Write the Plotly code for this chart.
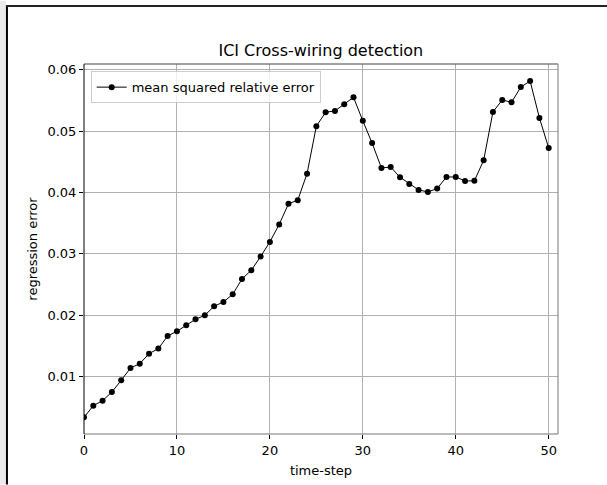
import plotly.graph_objects as go

# ---- data ----
time_step = list(range(0, 51))
mean_sq_rel_error = [
    0.00337, 0.00527, 0.00609, 0.00750, 0.00940, 0.01141, 0.01212, 0.01375, 0.01457, 0.01663,
    0.01739, 0.01837, 0.01935, 0.02000, 0.02147, 0.02217, 0.02342, 0.02592, 0.02734, 0.02957,
    0.03196, 0.03481, 0.03816, 0.03876, 0.04308, 0.05081, 0.05308, 0.05330, 0.05438, 0.05551,
    0.05168, 0.04805, 0.04400, 0.04416, 0.04249, 0.04140, 0.04043, 0.04010, 0.04065, 0.04254,
    0.04254, 0.04189, 0.04190, 0.04524, 0.05314, 0.05508, 0.05470, 0.05719, 0.05816, 0.05216,
    0.04724,
]
x_ticks = [0, 10, 20, 30, 40, 50]
y_ticks = [0.01, 0.02, 0.03, 0.04, 0.05, 0.06]

title_text = "ICI Cross-wiring detection"
x_label = "time-step"
y_label = "regression error"
series_name = "mean squared relative error"

# ---- layout geometry (pixels) ----
W, H = 607, 485
PL, PR, PT, PB = 84, 557.7, 63.5, 434.3
FONT = "DejaVu Sans"


def px_x(px):
    return (px - PL) / (PR - PL)


def px_y(py):
    return (PB - py) / (PB - PT)


fig = go.Figure()
fig.add_trace(go.Scatter(
    x=time_step, y=mean_sq_rel_error, mode="lines+markers", name=series_name,
    line=dict(color="black", width=1),
    marker=dict(color="black", size=6),
))

shapes = [
    # outer decoration of the picture
    dict(type="rect", xref="paper", yref="paper", x0=px_x(0), x1=px_x(6),
         y0=px_y(H), y1=px_y(0), fillcolor="#ebebeb", line=dict(width=0), layer="below"),
    dict(type="line", xref="paper", yref="paper", x0=px_x(7), x1=px_x(7),
         y0=px_y(H), y1=px_y(4.5), line=dict(color="black", width=2)),
    dict(type="line", xref="paper", yref="paper", x0=px_x(6), x1=px_x(W),
         y0=px_y(5.3), y1=px_y(5.3), line=dict(color="#222", width=2)),
    # axes frame
    dict(type="line", xref="paper", yref="paper", x0=0, x1=1, y0=1, y1=1,
         line=dict(color="#444", width=1)),
    dict(type="line", xref="paper", yref="paper", x0=1, x1=1, y0=0, y1=1,
         line=dict(color="#777", width=1)),
    dict(type="line", xref="paper", yref="paper", x0=0, x1=1, y0=0, y1=0,
         line=dict(color="#777", width=1)),
    dict(type="line", xref="paper", yref="paper", x0=0, x1=0, y0=0, y1=1,
         line=dict(color="black", width=1)),
]

fig.update_layout(
    width=W, height=H,
    margin=dict(l=PL, r=W - PR, t=PT, b=H - PB, pad=0, autoexpand=False),
    paper_bgcolor="white", plot_bgcolor="white",
    font=dict(family=FONT, size=13, color="black"),
    title=dict(text=title_text, x=((PL + PR) / 2) / W,
               xanchor="center", y=1 - 50 / H, yanchor="middle",
               font=dict(family=FONT, size=16, color="black")),
    showlegend=True,
    legend=dict(x=px_x(90.7), y=px_y(70.7), xanchor="left", yanchor="top",
                bgcolor="rgba(255,255,255,0.8)", bordercolor="#cccccc", borderwidth=1,
                font=dict(family=FONT, size=13, color="black")),
    shapes=shapes,
)

fig.update_xaxes(
    range=[0, 51], tickvals=x_ticks, ticktext=[str(v) for v in x_ticks],
    showgrid=True, gridcolor="#b0b0b0", gridwidth=1, zeroline=False,
    ticks="outside", ticklen=4, tickcolor="black", tickwidth=1,
    showline=False, automargin=False,
    title=dict(text=x_label, font=dict(family=FONT, size=13), standoff=9),
)
fig.update_yaxes(
    range=[0.00066, 0.06094], tickvals=y_ticks, ticktext=[f"{v:.2f}" for v in y_ticks],
    showgrid=True, gridcolor="#b0b0b0", gridwidth=1, zeroline=False,
    ticks="outside", ticklen=4, tickcolor="black", tickwidth=1,
    showline=False, automargin=False,
    title=dict(text=y_label, font=dict(family=FONT, size=13), standoff=6),
)

fig.write_html("out.html")
